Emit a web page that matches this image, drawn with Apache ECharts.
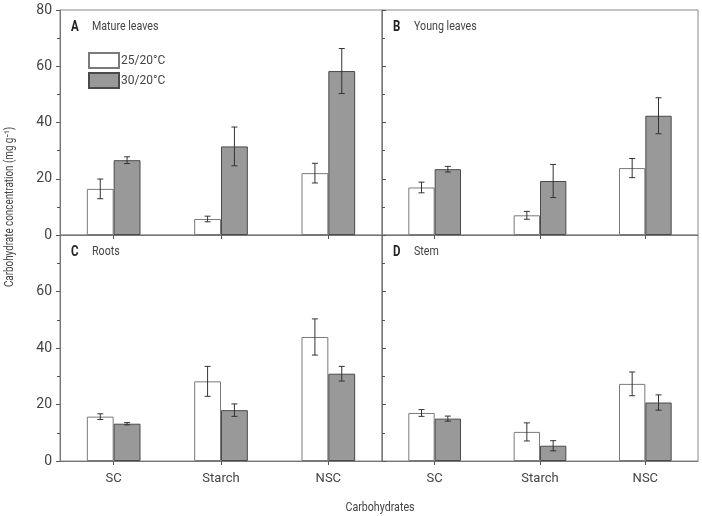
<!DOCTYPE html>
<html>
<head>
<meta charset="utf-8">
<script src="https://cdn.jsdelivr.net/npm/echarts@6/dist/echarts.min.js"></script>
<style>
html, body { margin: 0; padding: 0; background: #fff; }
#chart { width: 702px; height: 516px; }
</style>
</head>
<body>
<div id="chart"></div>
<script>
// categories and tick labels
const categories = ['SC', 'Starch', 'NSC'];
const yTicks = [0, 20, 40, 60, 80];
const legendNames = ['25/20°C', '30/20°C'];

// A - Mature leaves
const matureLow = [16.4, 5.7, 22.0];
const matureLowErr = [3.5, 1.0, 3.5];
const matureHigh = [26.6, 31.5, 58.3];
const matureHighErr = [1.2, 6.9, 8.0];
// B - Young leaves
const youngLow = [16.9, 7.0, 23.8];
const youngLowErr = [1.9, 1.4, 3.4];
const youngHigh = [23.4, 19.2, 42.4];
const youngHighErr = [1.0, 5.9, 6.4];
// C - Roots
const rootsLow = [15.7, 28.2, 43.9];
const rootsLowErr = [1.0, 5.3, 6.4];
const rootsHigh = [13.2, 18.0, 30.9];
const rootsHighErr = [0.4, 2.2, 2.6];
// D - Stem
const stemLow = [17.0, 10.3, 27.3];
const stemLowErr = [1.2, 3.2, 4.2];
const stemHigh = [15.0, 5.4, 20.7];
const stemHighErr = [0.9, 1.8, 2.7];

const FONT = "Roboto, 'Liberation Sans', sans-serif";
const TXT = '#444';
const NARROW = 0.82; // squeeze graphic texts, the original font is a condensed one

const chart = echarts.init(document.getElementById('chart'));

const panels = [
  { letter: 'A', name: 'Mature leaves', low: matureLow, lowErr: matureLowErr, high: matureHigh, highErr: matureHighErr },
  { letter: 'B', name: 'Young leaves', low: youngLow, lowErr: youngLowErr, high: youngHigh, highErr: youngHighErr },
  { letter: 'C', name: 'Roots', low: rootsLow, lowErr: rootsLowErr, high: rootsHigh, highErr: rootsHighErr },
  { letter: 'D', name: 'Stem', low: stemLow, lowErr: stemLowErr, high: stemHigh, highErr: stemHighErr }
];

const grids = [
  { left: 60, top: 10, width: 322, height: 225 },
  { left: 382, top: 10, width: 316, height: 225 },
  { left: 60, top: 235, width: 322, height: 226 },
  { left: 382, top: 235, width: 316, height: 226 }
];

const xAxes = [], yAxes = [], series = [], graphic = [];

function errorBar(sign) {
  return function (params, api) {
    const idx = api.value(0);
    const mean = api.value(1);
    const err = api.value(2);
    const half = api.size([1, 0])[0] * 0.125;
    const x = api.coord([idx, mean])[0] + sign * half;
    const yTop = api.coord([idx, mean + err])[1];
    const yBot = api.coord([idx, mean - err])[1];
    const cap = 3;
    const st = { stroke: '#333', lineWidth: 1 };
    return {
      type: 'group',
      children: [
        { type: 'line', shape: { x1: x, y1: yTop, x2: x, y2: yBot }, style: st },
        { type: 'line', shape: { x1: x - cap, y1: yTop, x2: x + cap, y2: yTop }, style: st },
        { type: 'line', shape: { x1: x - cap, y1: yBot, x2: x + cap, y2: yBot }, style: st }
      ]
    };
  };
}

panels.forEach(function (p, i) {
  const isLeft = i % 2 === 0;
  const isBottom = i >= 2;
  xAxes.push({
    gridIndex: i,
    type: 'category',
    data: categories,
    boundaryGap: true,
    axisLine: { show: true, lineStyle: { color: '#777', width: 1 } },
    axisTick: { show: true, alignWithLabel: true, length: 4, lineStyle: { color: '#555' } },
    axisLabel: { show: isBottom, color: TXT, fontFamily: FONT, fontSize: 13, margin: 11 },
    splitLine: { show: false }
  });
  yAxes.push({
    gridIndex: i,
    type: 'value',
    min: 0,
    max: 80,
    interval: 20,
    axisLine: { show: true, lineStyle: { color: '#777', width: 1 } },
    axisTick: { show: true, inside: !isLeft, length: 4, lineStyle: { color: '#555' } },
    minorTick: { show: true, splitNumber: 2, length: 3, lineStyle: { color: '#555' } },
    axisLabel: {
      show: isLeft,
      color: TXT,
      fontFamily: FONT,
      fontSize: 14,
      margin: 8,
      formatter: function (v) {
        if (isBottom && v === 80) return '';
        return yTicks.indexOf(v) >= 0 ? String(v) : '';
      }
    },
    splitLine: { show: false }
  });
  series.push({
    name: legendNames[0],
    type: 'bar',
    xAxisIndex: i,
    yAxisIndex: i,
    data: p.low,
    barWidth: '25%',
    barGap: '0%',
    itemStyle: { color: '#fff', borderColor: '#7a7a7a', borderWidth: 1 },
    z: 2
  });
  series.push({
    name: legendNames[1],
    type: 'bar',
    xAxisIndex: i,
    yAxisIndex: i,
    data: p.high,
    barWidth: '25%',
    barGap: '0%',
    itemStyle: { color: '#999', borderColor: '#4a4a4a', borderWidth: 1 },
    z: 2
  });
  series.push({
    type: 'custom',
    xAxisIndex: i,
    yAxisIndex: i,
    renderItem: errorBar(-1),
    data: p.low.map(function (v, k) { return [k, v, p.lowErr[k]]; }),
    z: 5
  });
  series.push({
    type: 'custom',
    xAxisIndex: i,
    yAxisIndex: i,
    renderItem: errorBar(1),
    data: p.high.map(function (v, k) { return [k, v, p.highErr[k]]; }),
    z: 5
  });
  const g = grids[i];
  graphic.push({
    type: 'text',
    x: g.left + 11,
    y: g.top + 17,
    scaleX: NARROW,
    style: { text: p.letter, fill: '#222', font: 'bold 14px ' + FONT, verticalAlign: 'middle' }
  });
  graphic.push({
    type: 'text',
    x: g.left + 32,
    y: g.top + 17,
    scaleX: NARROW,
    style: { text: p.name, fill: TXT, font: '13px ' + FONT, verticalAlign: 'middle' }
  });
});

// axis titles
graphic.push({
  type: 'text',
  x: 10,
  y: 207,
  rotation: Math.PI / 2,
  scaleX: NARROW,
  style: { text: 'Carbohydrate concentration (mg g⁻¹)', fill: TXT, font: '12px ' + FONT, align: 'center', verticalAlign: 'middle' }
});
graphic.push({
  type: 'text',
  x: 380,
  y: 508,
  scaleX: NARROW,
  style: { text: 'Carbohydrates', fill: TXT, font: '13px ' + FONT, align: 'center', verticalAlign: 'middle' }
});

const option = {
  animation: false,
  backgroundColor: '#fff',
  grid: grids.map(function (g) {
    return Object.assign({ show: true, borderColor: '#888', borderWidth: 1, backgroundColor: 'transparent' }, g);
  }),
  legend: {
    data: legendNames,
    orient: 'vertical',
    left: 88,
    top: 52,
    padding: 0,
    itemWidth: 30,
    itemHeight: 15,
    itemGap: 3,
    icon: 'rect',
    textStyle: { color: TXT, fontFamily: FONT, fontSize: 12, padding: [0, 0, 0, -3] },
    selectedMode: false
  },
  xAxis: xAxes,
  yAxis: yAxes,
  series: series,
  graphic: graphic
};

chart.setOption(option);
</script>
</body>
</html>
